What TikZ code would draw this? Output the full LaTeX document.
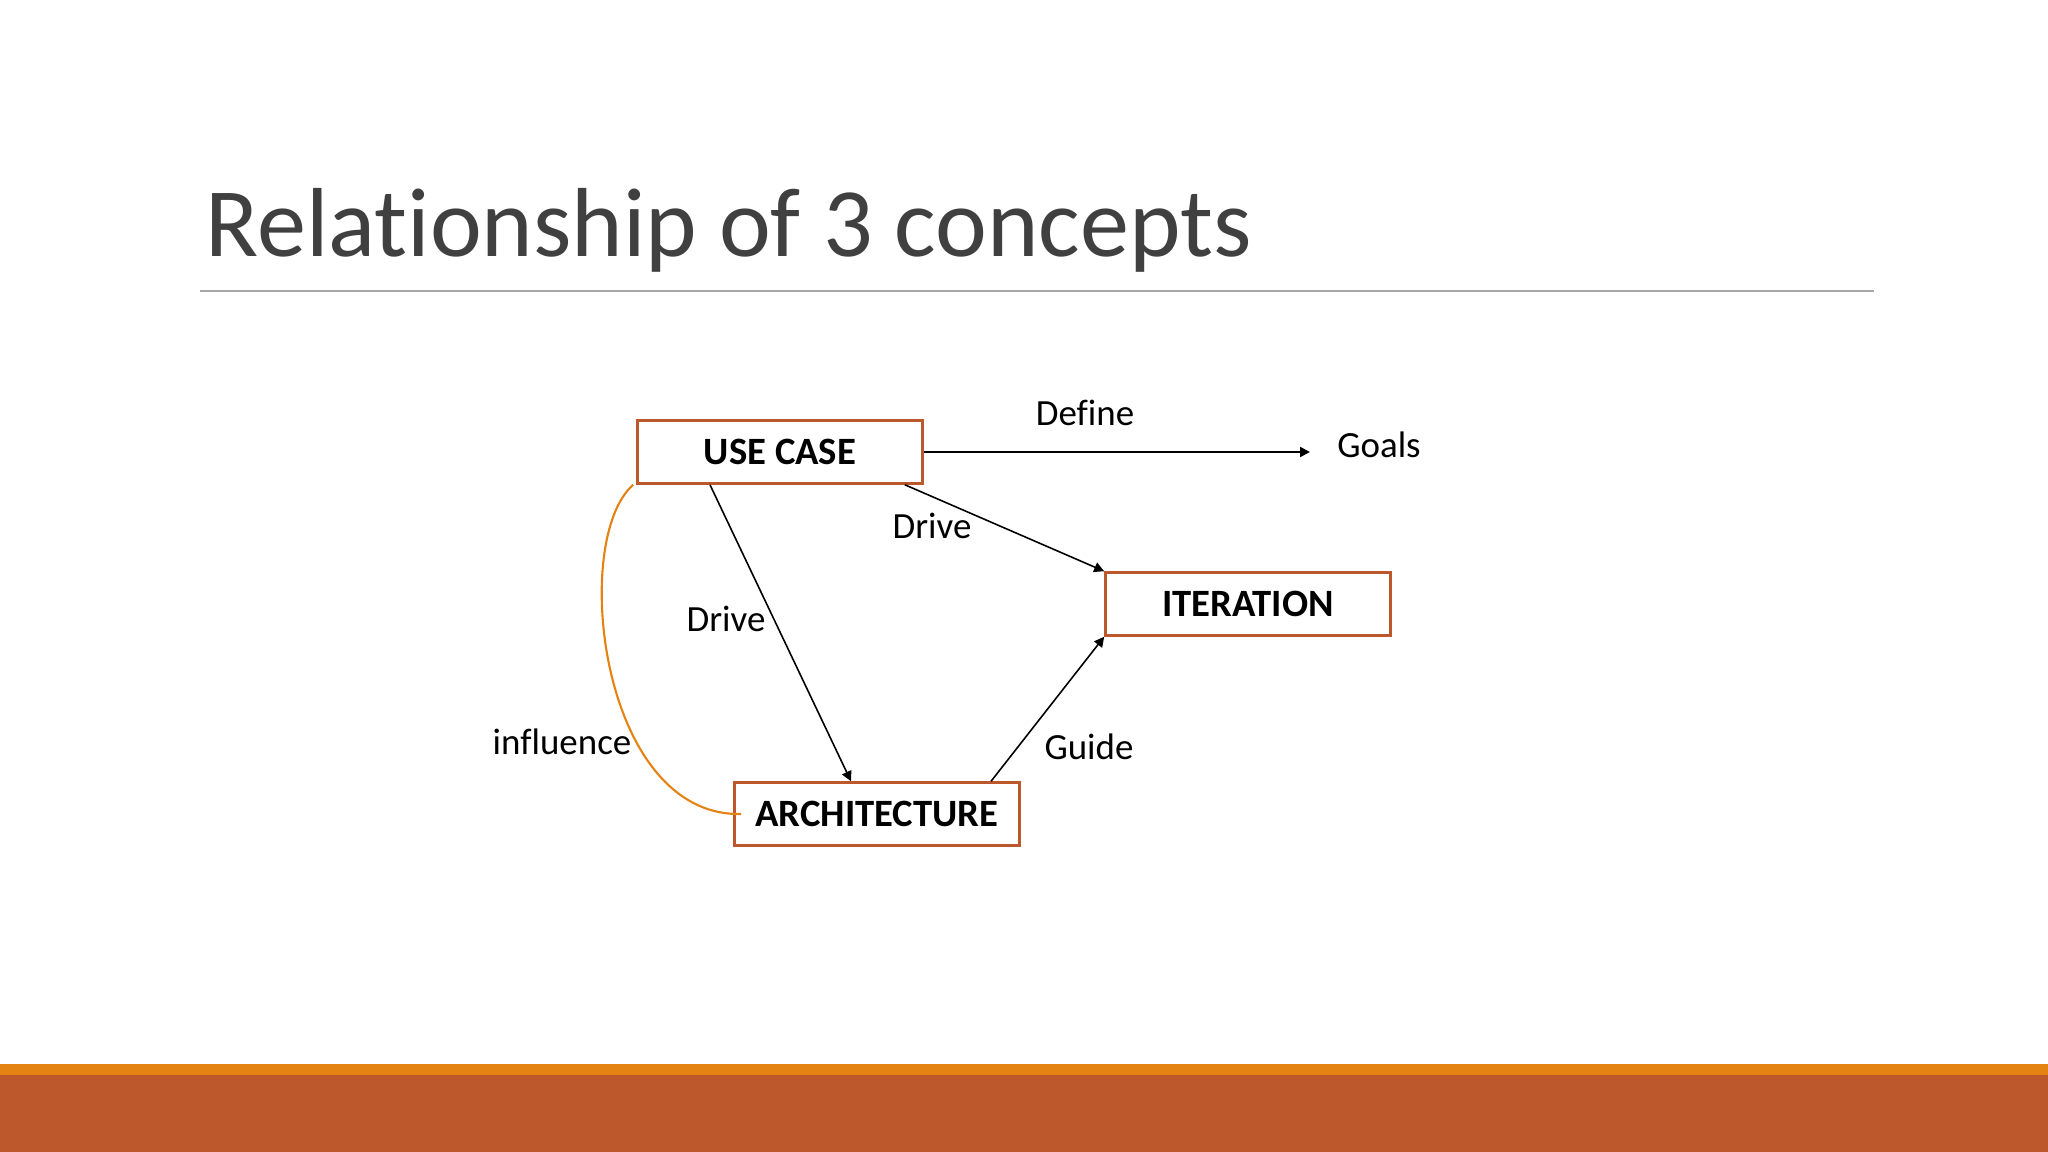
\documentclass[tikz,border=0pt]{standalone}
\usepackage{fontspec}
\setmainfont{Carlito}[Ligatures=NoCommon]
\usetikzlibrary{arrows.meta,positioning}
\definecolor{accentone}{HTML}{E48312}
\definecolor{accenttwo}{HTML}{BD582C}
\definecolor{titlegray}{HTML}{404040}

\begin{document}
\begin{tikzpicture}[x=0.01cm,y=-0.01cm,
  box/.style={draw=accenttwo,line width=0.7pt,minimum width=2.85cm,minimum height=0.63cm,inner sep=0pt,font=\fontsize{11}{13}\selectfont\bfseries},
  lbl/.style={anchor=base,inner sep=0pt,font=\fontsize{10.5}{12}\selectfont},
  arr/.style={-{Triangle[length=0.1cm,width=0.1cm]},line width=0.45pt}]
\useasboundingbox (0,0) rectangle (2048,1152);
\fill[accenttwo] (0,1075) rectangle (2048,1152);
\fill[accentone] (0,1064) rectangle (2048,1075);
\node[anchor=base west,inner sep=0pt,text=titlegray,font=\fontsize{27.9}{33}\selectfont] (T) at (205,257) {Relationship of 3 concepts};
\draw[gray!70,line width=0.5pt] (200,291) -- (1874,291);
\node[box] (UC) at (780,452) {USE CASE};
\node[box] (IT) at (1248,604) {ITERATION};
\node[box] (AR) at (877,814) {ARCHITECTURE};
\coordinate (G) at (1310,452);
\draw[arr,line width=0.6pt] (UC) -- (G);
\draw[arr] ([xshift=-0.19cm]UC.south east) -- (IT.north west);
\draw[arr] ([xshift=-0.70cm]UC.south) -- ([xshift=-0.26cm]AR.north);
\draw[arr] ([xshift=1.14cm]AR.north) -- (IT.south west);
\draw[accentone,line width=0.6pt] ([xshift=-0.03cm]UC.south west) .. controls (570,540) and (600,817) .. ([xshift=0.08cm]AR.west);
\node[lbl] (def) at (1085,426) {Define};
\node[lbl] (goals) at (1379,458) {Goals};
\node[lbl] (d1) at (932,539) {Drive};
\node[lbl] (d2) at (726,631) {Drive};
\node[lbl] (inf) at (562,754) {influence};
\node[lbl] (gd) at (1089,759) {Guide};
\end{tikzpicture}
\end{document}
